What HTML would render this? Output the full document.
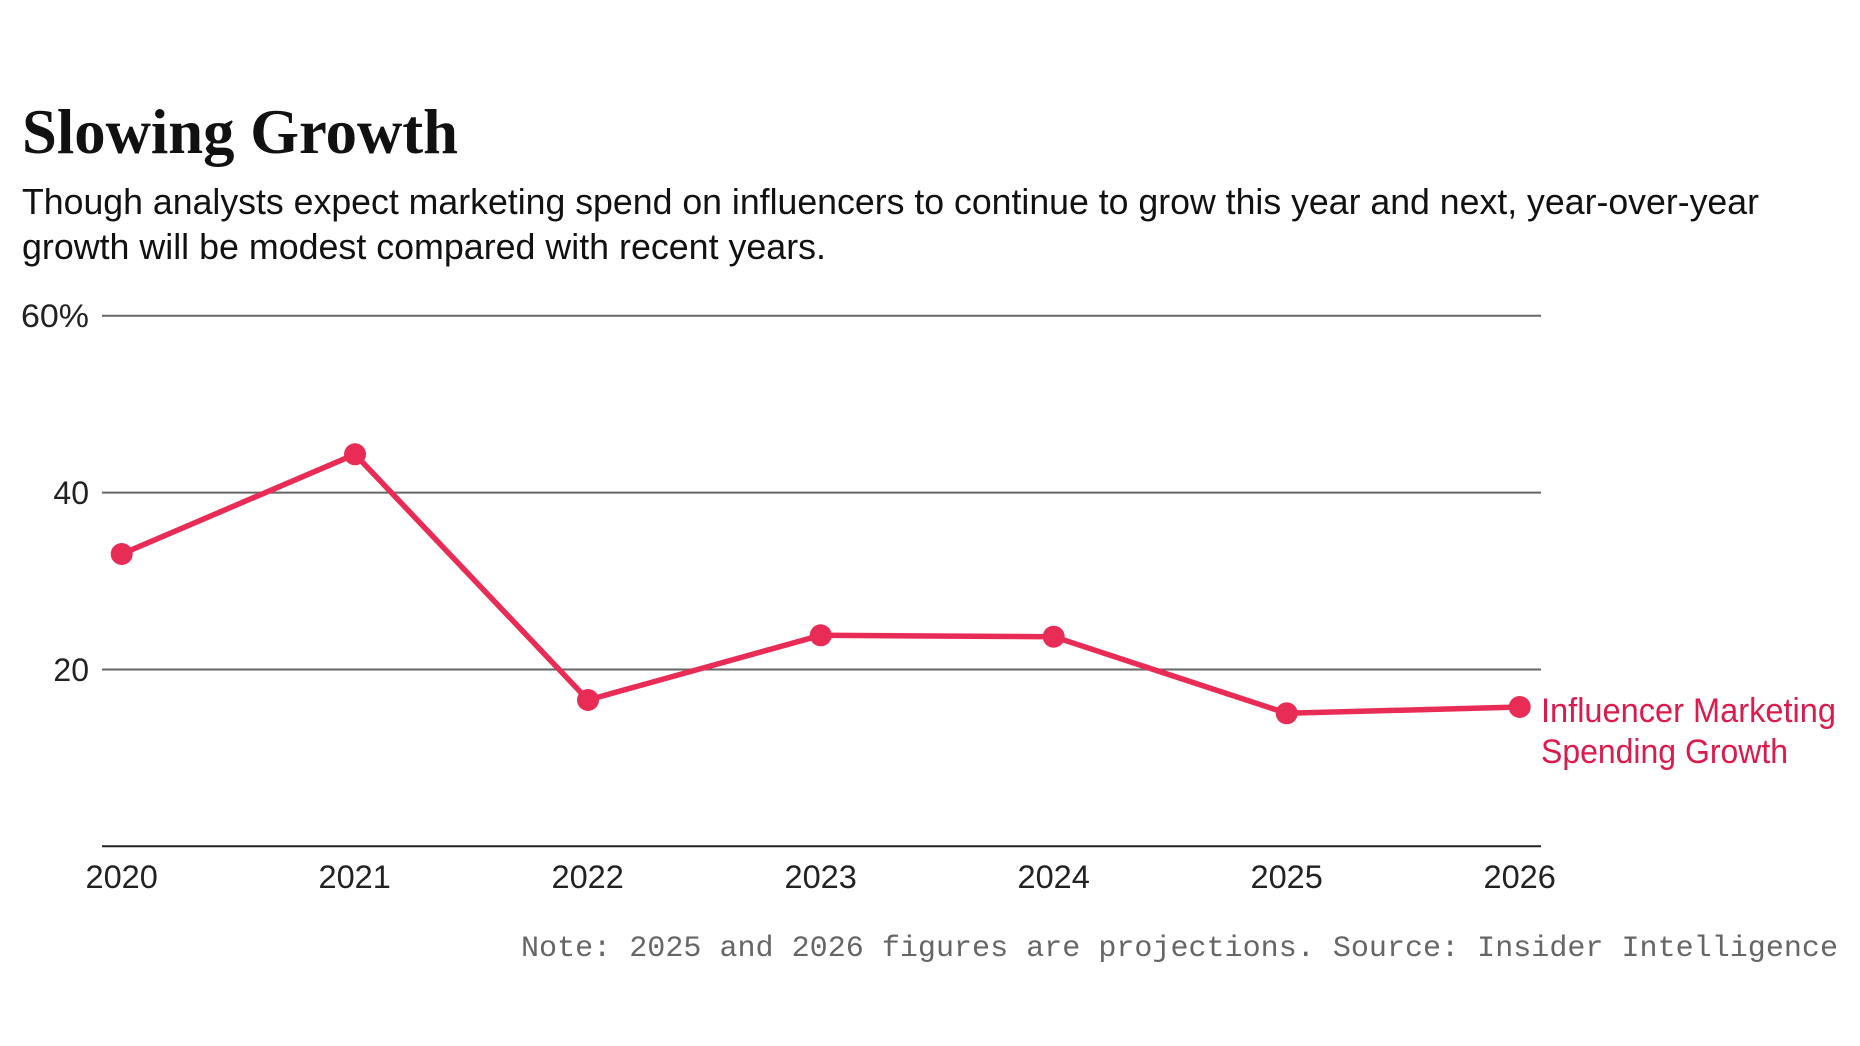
<!DOCTYPE html>
<html>
<head>
<meta charset="utf-8">
<style>
  html, body { margin: 0; padding: 0; background: #ffffff; }
  body { width: 1860px; height: 1046px; overflow: hidden; }
  svg { display: block; }
</style>
</head>
<body>
<svg width="1860" height="1046" viewBox="0 0 1860 1046" xmlns="http://www.w3.org/2000/svg">
  <rect x="0" y="0" width="1860" height="1046" fill="#ffffff"/>

  <!-- Title -->
  <text x="22" y="153" font-family="'Liberation Serif', serif" font-weight="bold" font-size="63" fill="#111111" textLength="436" lengthAdjust="spacingAndGlyphs">Slowing Growth</text>

  <!-- Subtitle -->
  <text x="22" y="214" font-family="'Liberation Sans', sans-serif" font-size="36" fill="#111111" textLength="1737" lengthAdjust="spacingAndGlyphs">Though analysts expect marketing spend on influencers to continue to grow this year and next, year-over-year</text>
  <text x="22" y="259" font-family="'Liberation Sans', sans-serif" font-size="36" fill="#111111" textLength="804" lengthAdjust="spacingAndGlyphs">growth will be modest compared with recent years.</text>

  <!-- Gridlines -->
  <line x1="102" y1="315.7" x2="1541" y2="315.7" stroke="#666666" stroke-width="2"/>
  <line x1="102" y1="492.6" x2="1541" y2="492.6" stroke="#666666" stroke-width="2"/>
  <line x1="102" y1="669.5" x2="1541" y2="669.5" stroke="#666666" stroke-width="2"/>
  <line x1="102" y1="846.3" x2="1541" y2="846.3" stroke="#222222" stroke-width="2"/>

  <!-- Y labels -->
  <g font-family="'Liberation Sans', sans-serif" font-size="32" fill="#222222" text-anchor="end">
    <text x="89" y="327" textLength="68" lengthAdjust="spacingAndGlyphs">60%</text>
    <text x="89" y="504">40</text>
    <text x="89" y="681">20</text>
  </g>

  <!-- X labels -->
  <g font-family="'Liberation Sans', sans-serif" font-size="32.5" fill="#222222" text-anchor="middle">
    <text x="121.7" y="888">2020</text>
    <text x="354.7" y="888">2021</text>
    <text x="587.7" y="888">2022</text>
    <text x="820.7" y="888">2023</text>
    <text x="1053.7" y="888">2024</text>
    <text x="1286.7" y="888">2025</text>
    <text x="1519.7" y="888">2026</text>
  </g>

  <!-- Series line -->
  <polyline fill="none" stroke="#e92c55" stroke-width="5.5" stroke-linejoin="round" stroke-linecap="round"
    points="121.7,554 355,454.3 588,700 820.7,635.3 1053.7,636.7 1286.7,713.3 1519.7,707"/>
  <g fill="#e92c55">
    <circle cx="121.7" cy="554" r="11"/>
    <circle cx="355" cy="454.3" r="11"/>
    <circle cx="588" cy="700" r="11"/>
    <circle cx="820.7" cy="635.3" r="11"/>
    <circle cx="1053.7" cy="636.7" r="11"/>
    <circle cx="1286.7" cy="713.3" r="11"/>
    <circle cx="1519.7" cy="707" r="11"/>
  </g>

  <!-- Series label -->
  <g font-family="'Liberation Sans', sans-serif" font-size="34" fill="#dc1a4c">
    <text x="1541" y="722" textLength="295" lengthAdjust="spacingAndGlyphs">Influencer Marketing</text>
    <text x="1541" y="763" textLength="247" lengthAdjust="spacingAndGlyphs">Spending Growth</text>
  </g>

  <!-- Note -->
  <text x="521" y="956" font-family="'Liberation Mono', monospace" font-size="30" fill="#666666" textLength="1317" lengthAdjust="spacingAndGlyphs">Note: 2025 and 2026 figures are projections. Source: Insider Intelligence</text>
</svg>
</body>
</html>
